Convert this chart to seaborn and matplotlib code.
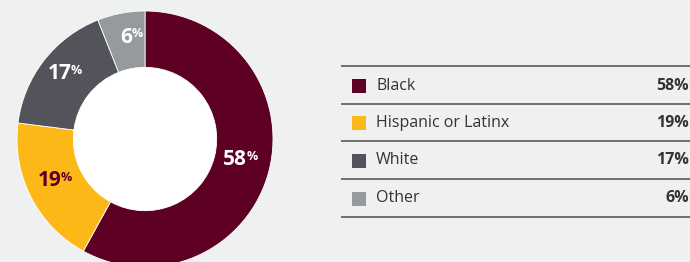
import numpy as np
import matplotlib.pyplot as plt
import seaborn as sns

# data
categories = ["Black", "Hispanic or Latinx", "White", "Other"]
values = [58, 19, 17, 6]
colors = ["#5e0024", "#fbb817", "#53545b", "#959a9d"]
label_colors = ["white", "#5e0024", "white", "white"]

BG = "#eff0f0"
sns.set_theme(style="white")
plt.rcParams["font.family"] = ["Open Sans", "DejaVu Sans"]

W, H = 690, 262
fig = plt.figure(figsize=(W / 100, H / 100), dpi=100, facecolor=BG)

# donut: centre (145,139) px, outer radius 128 px
cx, cy, R = 145, 139, 128
ax = fig.add_axes([(cx - R) / W, (H - cy - R) / H, 2 * R / W, 2 * R / H])
ax.set_facecolor(BG)
wedges, _ = ax.pie(values, colors=colors, startangle=90, counterclock=False,
                   radius=1, wedgeprops=dict(width=0.44, edgecolor="white", linewidth=0.6))
ax.add_patch(plt.Circle((0, 0), 0.56, color="white", zorder=0))
ax.set_xlim(-1, 1)
ax.set_ylim(-1, 1)
ax.set_aspect("equal")
ax.axis("off")

for w, v, tc in zip(wedges, values, label_colors):
    ang = np.deg2rad((w.theta1 + w.theta2) / 2)
    r = 0.78
    x, y = r * np.cos(ang), r * np.sin(ang) + 0.03
    ax.annotate(f"{v}", (x, y), xytext=(4, 0), textcoords="offset points",
                ha="right", va="center", fontsize=15, fontweight="bold", color=tc)
    ax.annotate("%", (x, y), xytext=(3.5, 2.5), textcoords="offset points",
                ha="left", va="center", fontsize=9, fontweight="bold", color=tc)

# table on the right, drawn in pixel coordinates
tb = fig.add_axes([0, 0, 1, 1], facecolor="none")
tb.set_xlim(0, W)
tb.set_ylim(H, 0)
tb.axis("off")

line_y = [66, 104, 141, 179, 217]
for yy in line_y:
    tb.plot([341, W], [yy, yy], color="#5a5a5a", lw=1.2, solid_capstyle="butt")

for i, (cat, v, c) in enumerate(zip(categories, values, colors)):
    ym = (line_y[i] + line_y[i + 1]) / 2 + 0.5
    tb.scatter([359], [ym], marker="s", s=90, color=c, linewidths=0)
    tb.text(376, ym, cat, ha="left", va="center", fontsize=11.5, color="#333333")
    tb.text(689, ym, f"{v}%", ha="right", va="center", fontsize=11.5,
            fontweight="bold", color="#333333")

fig.savefig("out.png", dpi=100, facecolor=BG)
